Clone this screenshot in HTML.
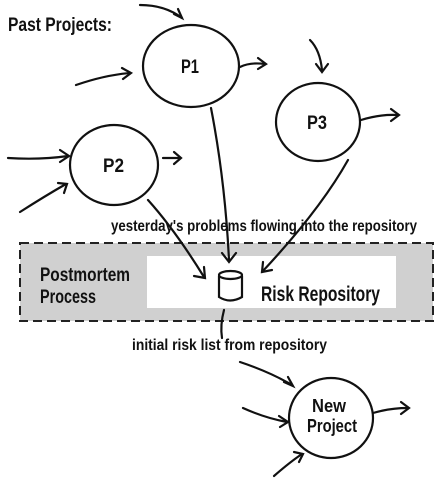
<!DOCTYPE html>
<html><head><style>body{margin:0;background:#fff}svg{display:block}text{font-family:"Liberation Sans Narrow","Liberation Sans",sans-serif;font-weight:bold;fill:#111}</style></head><body>
<svg width="440" height="480" viewBox="0 0 440 480" xmlns="http://www.w3.org/2000/svg">
<rect x="20" y="243" width="413" height="78" fill="#d0d0d0" stroke="#222" stroke-width="2" stroke-dasharray="9,5"/>
<rect x="147" y="256" width="249" height="52" fill="#fff"/>
<g fill="none" stroke="#111" stroke-width="2.2" stroke-linecap="round">
<ellipse cx="191" cy="66" rx="48" ry="41"/>
<ellipse cx="318" cy="122" rx="42" ry="39"/>
<ellipse cx="114" cy="165" rx="44" ry="40"/>
<ellipse cx="331" cy="418" rx="42" ry="40"/>
<path d="M140 5 Q165 5 182 18"/><path d="M174 14 L182 18 L178 9"/>
<path d="M76 85 Q105 75 130 73"/><path d="M122 68 L131 73 L123 79"/>
<path d="M240 67 Q250 62 265 64"/><path d="M258 58 L266 64 L258 69"/>
<path d="M310 40 Q320 50 322 70"/><path d="M316 64 L322 72 L328 64"/>
<path d="M361 120 Q380 114 398 115"/><path d="M391 109 L399 115 L391 121"/>
<path d="M8 158 Q40 160 68 156"/><path d="M60 150 L69 156 L60 162"/>
<path d="M20 212 Q45 196 66 184"/><path d="M58 183 L67 184 L64 193"/>
<path d="M163 158 L180 158"/><path d="M174 152 L181 158 L174 164"/>
<path d="M211 108 Q225 180 229 260"/><path d="M222 253 L229 262 L236 253"/>
<path d="M148 200 Q175 230 204 277"/><path d="M194 276 L205 278 L204 267"/>
<path d="M348 160 Q320 210 262 272"/><path d="M263 262 L262 272 L272 270"/>
<path d="M219 276 L219 297 Q230 304 242 297 L242 276"/>
<ellipse cx="230.5" cy="275" rx="11.5" ry="4"/>
<path d="M224 310 Q220 325 222 338"/>
<path d="M240 362 Q270 372 292 385"/><path d="M284 382 L293 386 L288 377"/>
<path d="M243 408 Q265 418 287 422"/><path d="M279 416 L288 422 L280 427"/>
<path d="M274 476 Q290 462 302 454"/><path d="M294 452 L303 454 L299 462"/>
<path d="M373 413 Q390 408 408 408"/><path d="M401 402 L409 408 L401 414"/>
</g>
<text x="8" y="31" font-size="19" textLength="104" lengthAdjust="spacingAndGlyphs">Past Projects:</text>
<text x="181" y="73" font-size="19" textLength="18" lengthAdjust="spacingAndGlyphs">P1</text>
<text x="307" y="129" font-size="19" textLength="20" lengthAdjust="spacingAndGlyphs">P3</text>
<text x="103" y="172" font-size="19" textLength="21" lengthAdjust="spacingAndGlyphs">P2</text>
<text x="111" y="231" font-size="16" textLength="306" lengthAdjust="spacingAndGlyphs">yesterday's problems flowing into the repository</text>
<text x="40" y="281" font-size="19" textLength="90" lengthAdjust="spacingAndGlyphs">Postmortem</text>
<text x="40" y="303" font-size="19" textLength="56" lengthAdjust="spacingAndGlyphs">Process</text>
<text x="261" y="301" font-size="21" textLength="119" lengthAdjust="spacingAndGlyphs">Risk Repository</text>
<text x="132" y="350" font-size="16" textLength="195" lengthAdjust="spacingAndGlyphs">initial risk list from repository</text>
<text x="312" y="412" font-size="18" textLength="34" lengthAdjust="spacingAndGlyphs">New</text>
<text x="307" y="432" font-size="18" textLength="50" lengthAdjust="spacingAndGlyphs">Project</text>
</svg>
</body></html>
